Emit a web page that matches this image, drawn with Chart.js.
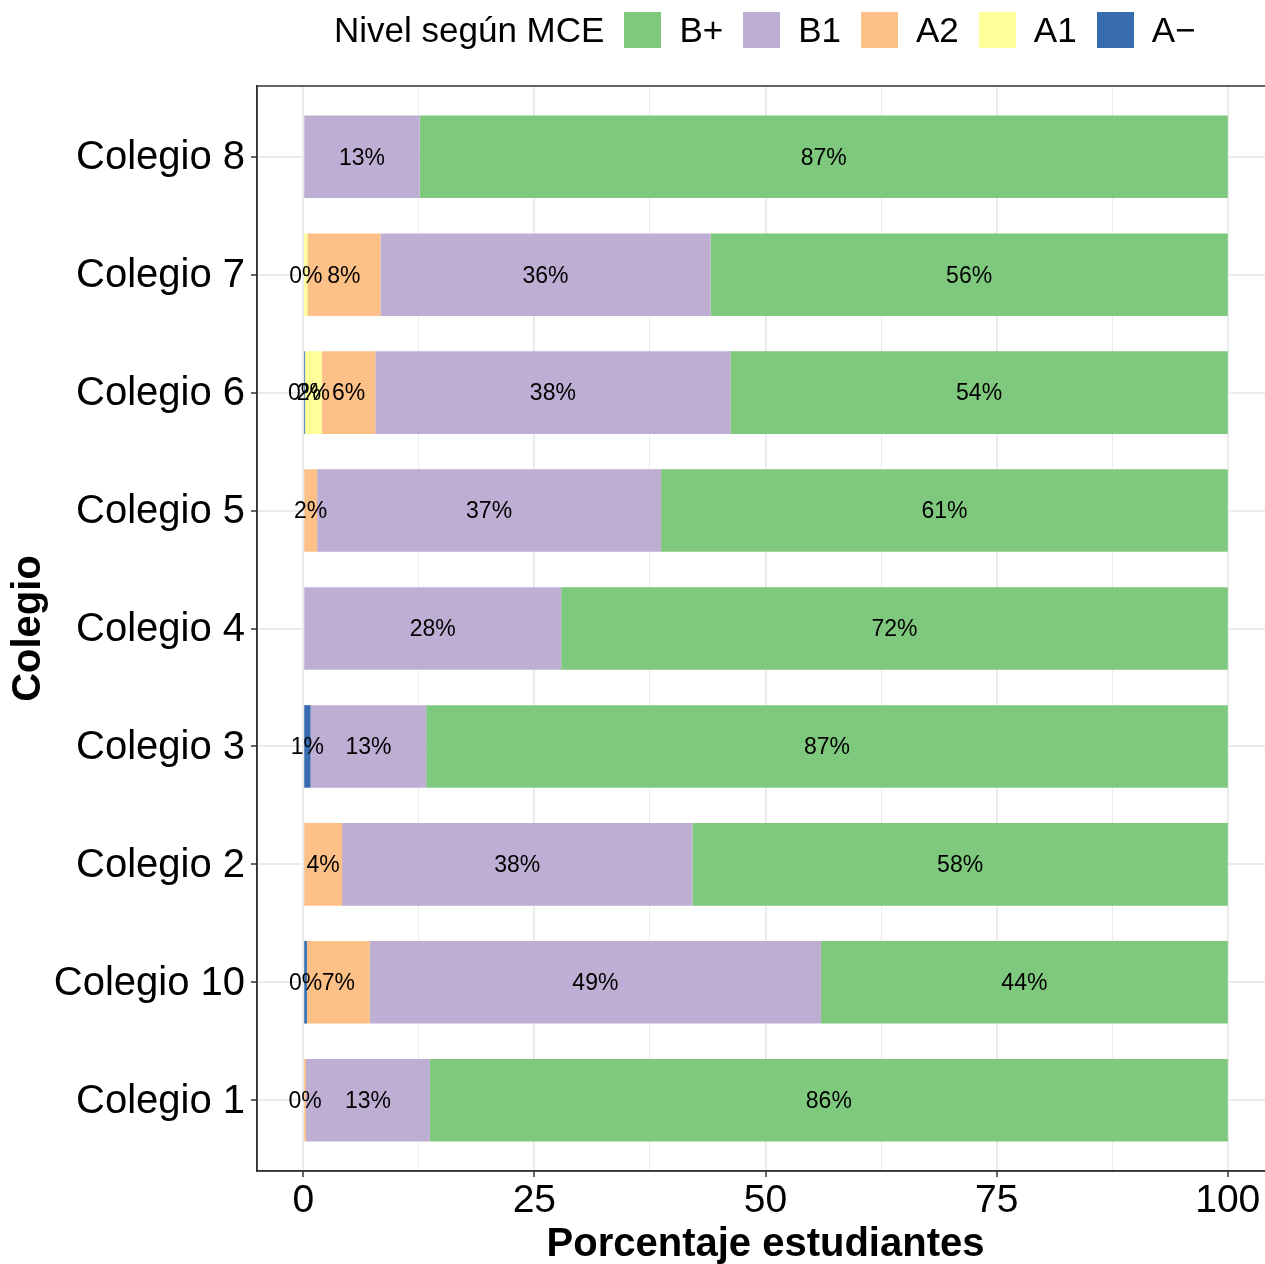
<!DOCTYPE html>
<html>
<head>
<meta charset="utf-8">
<script src="https://cdn.jsdelivr.net/npm/chart.js@4/dist/chart.umd.min.js"></script>
<style>
  html, body { margin: 0; padding: 0; overflow: hidden; background: #fff; }
  #wrap { position: absolute; left: 0; top: 0; width: 1280px; height: 1264px; }
  #leyenda {
    position: absolute; left: 334px; top: 12px; height: 36px;
    display: flex; align-items: center;
    font-family: "Liberation Sans", Arial, sans-serif; font-size: 35px; color: #000;
  }
  #leyenda .caja { width: 37px; height: 36px; margin-left: 20px; }
  #leyenda .txt { margin-left: 18px; }
</style>
</head>
<body>
<div id="wrap">
  <canvas id="grafico" width="1280" height="1264"></canvas>
  <div id="leyenda"><span>Nivel según MCE</span></div>
</div>
<script>
// de abajo hacia arriba, como en el gráfico
const colegios = ['Colegio 1', 'Colegio 10', 'Colegio 2', 'Colegio 3', 'Colegio 4', 'Colegio 5', 'Colegio 6', 'Colegio 7', 'Colegio 8'];

const nivelAmenos = [0, 0.4, 0, 0.8, 0, 0, 0.2, 0, 0];
const nivelA1     = [0, 0, 0, 0, 0, 0, 1.8, 0.45, 0];
const nivelA2     = [0.3, 6.8, 4.2, 0, 0, 1.5, 5.8, 7.9, 0];
const nivelB1     = [13.4, 48.8, 37.9, 12.5, 27.9, 37.2, 38.4, 35.7, 12.6];
const nivelBmas   = [86.3, 44.0, 57.9, 86.7, 72.1, 61.3, 53.8, 55.95, 87.4];

const ticksX = [0, 12.5, 25, 37.5, 50, 62.5, 75, 87.5, 100];

const niveles = [
  { label: 'A\u2212', data: nivelAmenos, color: '#386cb0' },
  { label: 'A1', data: nivelA1, color: '#ffff99' },
  { label: 'A2', data: nivelA2, color: '#fdc086' },
  { label: 'B1', data: nivelB1, color: '#beaed4' },
  { label: 'B+', data: nivelBmas, color: '#7fc97f' }
];

const fuente = '"Liberation Sans", Arial, sans-serif';

// leyenda en el orden de ggplot (B+ primero)
const leyenda = document.getElementById('leyenda');
niveles.slice().reverse().forEach(n => {
  const caja = document.createElement('span');
  caja.className = 'caja';
  caja.style.background = n.color;
  const txt = document.createElement('span');
  txt.className = 'txt';
  txt.textContent = n.label;
  leyenda.appendChild(caja);
  leyenda.appendChild(txt);
});

// etiquetas de porcentaje al centro de cada tramo
const etiquetas = {
  id: 'etiquetas',
  afterDatasetsDraw(chart) {
    const ctx = chart.ctx;
    ctx.save();
    ctx.font = '23px ' + fuente;
    ctx.fillStyle = '#000';
    ctx.textAlign = 'center';
    ctx.textBaseline = 'middle';
    chart.data.datasets.forEach((ds, i) => {
      chart.getDatasetMeta(i).data.forEach((el, j) => {
        const v = ds.data[j].x;
        if (v <= 0) return;
        const { x, y, base } = el.getProps(['x', 'y', 'base'], true);
        ctx.fillText(Math.round(v) + '%', (x + base) / 2, y + 1.5);
      });
    });
    ctx.restore();
  }
};

// borde del panel
const borde = {
  id: 'borde',
  afterDraw(chart) {
    const a = chart.chartArea;
    const ctx = chart.ctx;
    ctx.save();
    ctx.strokeStyle = '#333333';
    ctx.lineWidth = 1.5;
    ctx.strokeRect(a.left, a.top, a.right - a.left, a.bottom - a.top);
    ctx.restore();
  }
};

new Chart(document.getElementById('grafico'), {
  type: 'bar',
  data: {
    datasets: niveles.map(n => ({
      label: n.label,
      data: n.data.map((v, i) => ({ x: v, y: i + 1 })),
      backgroundColor: n.color,
      borderWidth: 0
    }))
  },
  options: {
    indexAxis: 'y',
    responsive: false,
    animation: false,
    devicePixelRatio: 1,
    layout: { padding: { left: 0, top: 86, right: 6, bottom: 0 } },
    datasets: { bar: { categoryPercentage: 1, barPercentage: 0.7 } },
    plugins: { legend: { display: false }, tooltip: { enabled: false } },
    scales: {
      x: {
        type: 'linear',
        stacked: true,
        min: -5,
        max: 105,
        afterBuildTicks: s => { s.ticks = ticksX.map(v => ({ value: v })); },
        afterFit: s => { s.height = 93; },
        ticks: {
          autoSkip: false,
          maxRotation: 0,
          padding: 1,
          color: '#000',
          font: { family: fuente, size: 39 },
          callback: v => (v % 25 === 0 ? String(v) : '')
        },
        grid: {
          color: '#ebebeb',
          lineWidth: c => (c.tick && c.tick.value % 25 === 0 ? 2 : 1),
          tickColor: c => (c.tick && c.tick.value % 25 === 0 ? '#333333' : 'rgba(0,0,0,0)'),
          tickLength: 6,
          tickWidth: 1.5
        },
        border: { display: true, color: '#333333', width: 1.5 },
        title: {
          display: true,
          text: 'Porcentaje estudiantes',
          color: '#000',
          font: { family: fuente, size: 40, weight: 'bold', lineHeight: 0.95 },
          padding: { top: 0, bottom: 0 }
        }
      },
      y: {
        type: 'linear',
        stacked: true,
        offset: false,
        min: 0.4,
        max: 9.6,
        afterBuildTicks: s => { s.ticks = colegios.map((c, i) => ({ value: i + 1 })); },
        afterFit: s => { s.width = 257; },
        ticks: {
          autoSkip: false,
          padding: 6,
          labelOffset: 1.5,
          color: '#000',
          font: { family: fuente, size: 40 },
          callback: v => colegios[v - 1] || ''
        },
        grid: {
          offset: false,
          color: '#ebebeb',
          lineWidth: 2,
          tickColor: '#333333',
          tickLength: 6,
          tickWidth: 1.5
        },
        border: { display: true, color: '#333333', width: 1.5 },
        title: {
          display: true,
          text: 'Colegio',
          color: '#000',
          font: { family: fuente, size: 40, weight: 'bold' },
          padding: { top: 5, bottom: 0 }
        }
      }
    }
  },
  plugins: [etiquetas, borde]
});
</script>
</body>
</html>
